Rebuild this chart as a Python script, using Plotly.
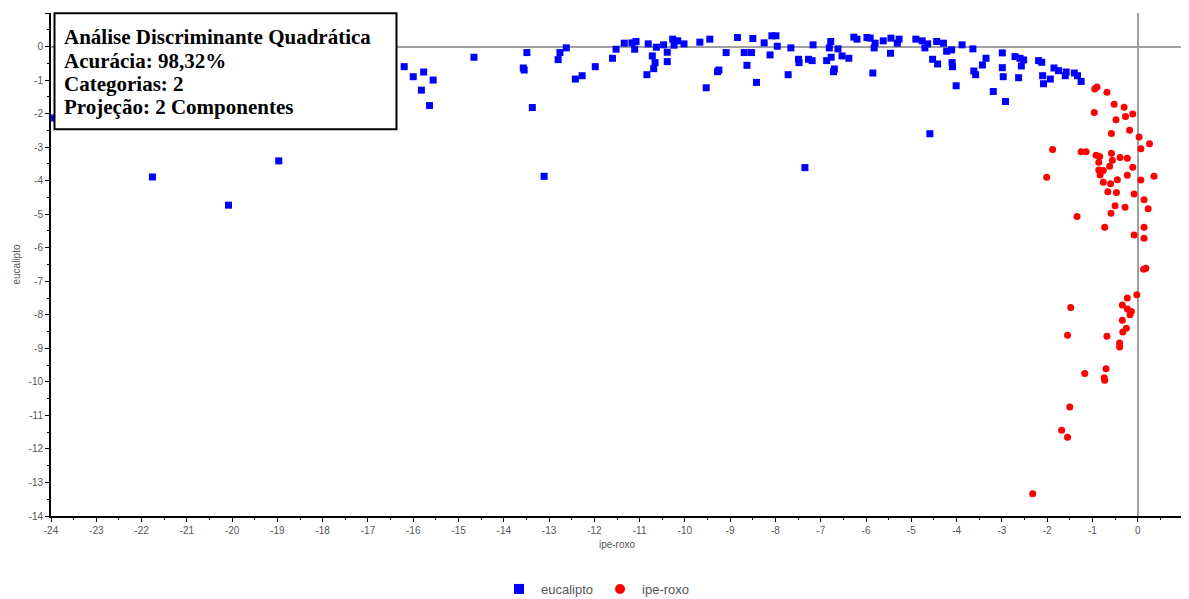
import plotly.graph_objects as go

# eucalipto (blue squares)
euc_x = [-24.0, -21.76, -20.08, -18.97, -16.20, -16.00, -15.77, -15.56, -15.82, -15.64,
         -14.66, -13.49, -13.57, -13.55, -13.37, -13.11, -12.76, -12.80, -12.62, -12.42,
         -12.27, -11.98, -11.60, -11.52, -11.34, -11.17, -11.08, -11.11, -10.81, -10.72,
         -10.66, -10.69, -10.84, -10.63, -10.47, -10.39, -10.39, -10.27, -10.16, -10.24,
         -10.02, -9.67, -9.45, -9.53, -9.25, -9.28, -9.09, -8.84, -8.69, -8.53,
         -8.63, -8.50, -8.42, -8.25, -8.12, -8.08, -7.99, -7.96, -7.72, -7.66,
         -7.49, -7.48, -7.27, -7.19, -7.17, -6.87, -6.77, -6.78, -6.81, -6.70,
         -6.72, -6.62, -6.53, -6.38, -6.27, -6.20, -5.98, -5.91, -5.85, -5.82,
         -5.80, -5.62, -5.46, -5.45, -5.31, -5.27, -4.90, -4.76, -4.70, -4.64,
         -4.53, -4.42, -4.44, -4.29, -4.22, -4.11, -4.10, -4.09, -4.01, -3.88,
         -3.64, -3.62, -3.58, -3.43, -3.35, -3.19, -2.99, -2.99, -2.97, -2.92,
         -4.59, -7.35, -2.71, -2.60, -2.52, -2.57, -2.63, -2.19, -2.12, -2.10,
         -2.08, -1.93, -1.85, -1.75, -1.58, -1.60, -1.40, -1.33, -1.25]
euc_y = [-2.13, -3.89, -4.73, -3.41, -0.60, -0.90, -0.76, -1.00, -1.30, -1.76,
         -0.32, -0.18, -0.64, -0.70, -1.82, -3.87, -0.18, -0.39, -0.04, -0.97,
         -0.87, -0.60, -0.35, -0.08, 0.10, 0.11, 0.15, -0.08, 0.08, -0.28,
         -0.48, -0.66, -0.84, -0.02, 0.05, -0.17, -0.45, 0.22, 0.17, 0.04,
         0.08, 0.13, 0.22, -1.23, -0.70, -0.75, -0.18, 0.27, -0.18, -0.18,
         -0.56, 0.24, -1.07, 0.11, -0.25, 0.32, 0.32, 0.01, -0.84, -0.04,
         -0.38, -0.48, -0.38, -0.42, 0.05, -0.42, -0.32, 0.15, -0.04, -0.67,
         -0.75, -0.07, -0.28, -0.35, 0.28, 0.22, 0.27, 0.25, -0.79, -0.04,
         0.10, 0.17, -0.20, 0.25, 0.10, 0.22, 0.22, 0.17, -0.04, 0.08,
         -0.38, -0.52, 0.15, 0.10, -0.14, -0.10, -0.48, -0.60, -1.17, 0.05,
         -0.07, -0.73, -0.84, -0.55, -0.35, -1.34, -0.19, -0.63, -0.90, -1.64,
         -2.60, -3.61, -0.30, -0.35, -0.40, -0.58, -0.93, -0.42, -0.47, -0.87,
         -1.11, -0.97, -0.64, -0.72, -0.76, -0.87, -0.79, -0.87, -1.04]

# ipe-roxo (red circles)
ipe_x = [-0.95, -0.90, -0.68, -0.96, -0.52, -0.30, -0.48, -0.27, -0.11, -0.18,
         -0.58, 0.03, 0.26, 0.07, -1.88, -1.25, -1.14, -0.92, -0.84, -0.58,
         -0.56, -0.39, -0.23, -0.86, -0.62, -0.11, -0.86, -0.76, -0.83, -0.45,
         -0.23, 0.07, 0.36, -2.01, -0.76, -0.60, -0.66, -0.47, -0.08, 0.14,
         -0.50, -0.28, 0.23, -0.59, -1.34, -0.73, 0.14, -0.08, 0.14, 0.13,
         0.18, -0.02, -0.23, -0.34, -0.23, -0.14, -0.17, -0.34, -0.25, -0.33,
         -0.40, -0.40, -1.48, -1.55, -0.68, -0.70, -1.17, -0.73, -0.74, -1.50,
         -1.68, -1.55, -2.32]
ipe_y = [-1.27, -1.21, -1.36, -1.97, -1.72, -1.81, -2.18, -2.09, -2.01, -2.50,
         -2.59, -2.70, -2.90, -3.05, -3.07, -3.14, -3.14, -3.24, -3.28, -3.18,
         -3.39, -3.31, -3.33, -3.45, -3.57, -3.60, -3.68, -3.70, -3.83, -3.97,
         -3.84, -3.98, -3.87, -3.90, -4.05, -4.09, -4.33, -4.35, -4.40, -4.57,
         -4.75, -4.79, -4.84, -4.97, -5.07, -5.39, -5.39, -5.62, -5.72, -6.64,
         -6.61, -7.40, -7.50, -7.71, -7.83, -7.90, -8.00, -8.16, -8.40, -8.51,
         -8.84, -8.96, -7.78, -8.61, -8.64, -9.61, -9.75, -9.95, -9.88, -10.75,
         -11.44, -11.65, -13.34]

x_ticks = list(range(-24, 2))
y_ticks = list(range(-14, 2))

info_lines = ["Análise Discriminante Quadrática", "Acurácia: 98,32%",
              "Categorias: 2", "Projeção: 2 Componentes"]

# the page body has an 8px margin; size the figure so the plot lands where the reference has it
OFF = 8
W, H = 1189 - OFF, 599 - OFF
ML, MR, MT, MB = 51 - OFF, 6, 13 - OFF, 83
PW, PH = W - ML - MR, H - MT - MB


def px_to_paper(px, py):
    # px, py are window pixel positions
    return (px - OFF - ML) / PW, (H - MB - (py - OFF)) / PH


fig = go.Figure()
fig.add_trace(go.Scatter(x=euc_x, y=euc_y, mode="markers", name="eucalipto", showlegend=False,
                         legendgroup="euc", marker=dict(symbol="square", size=7, color="#0000FF")))
fig.add_trace(go.Scatter(x=ipe_x, y=ipe_y, mode="markers", name="ipe-roxo", showlegend=False,
                         legendgroup="ipe", marker=dict(symbol="circle", size=7, color="#FF0000")))
# legend entries (larger symbols, as in the reference legend)
fig.add_trace(go.Scatter(x=[None], y=[None], mode="markers", name="eucalipto", legendgroup="euc",
                         marker=dict(symbol="square", size=10, color="#0000FF")))
fig.add_trace(go.Scatter(x=[None], y=[None], mode="markers", name="ipe-roxo", legendgroup="ipe",
                         marker=dict(symbol="circle", size=10, color="#FF0000")))

tickfont = dict(family="Liberation Sans, Arial", size=10, color="#555555")
titlefont = dict(family="Liberation Sans, Arial", size=10, color="#555555")
common = dict(showgrid=False, zeroline=True, zerolinecolor="#a0a0a0", zerolinewidth=2,
              showline=True, linecolor="black", linewidth=2, automargin=False,
              ticks="outside", ticklen=4, tickcolor="black", tickfont=tickfont,
              minor=dict(dtick=0.5, ticks="outside", ticklen=2, tickcolor="black", showgrid=False))
fig.update_xaxes(range=[-24, 1], tickvals=x_ticks, ticktext=[str(v) for v in x_ticks],
                 title=dict(text="ipe-roxo", font=titlefont, standoff=6), **common)
fig.update_yaxes(range=[-14, 1], tickvals=y_ticks, ticktext=[str(v) for v in y_ticks],
                 title=dict(text="eucalipto", font=titlefont, standoff=6), **common)

bx0, by1 = px_to_paper(54.5, 13.3)
bx1, by0 = px_to_paper(396.5, 129.3)
fig.add_shape(type="rect", xref="paper", yref="paper", x0=bx0, x1=bx1, y0=by0, y1=by1,
              line=dict(color="black", width=2), fillcolor="white", layer="above")
line_centers = [37.0, 60.5, 84.0, 107.0]
for txt, cy in zip(info_lines, line_centers):
    ax, ay = px_to_paper(62, cy)
    fig.add_annotation(xref="paper", yref="paper", x=ax, y=ay, xanchor="left", yanchor="middle",
                       text="<b>%s</b>" % txt, showarrow=False, align="left",
                       font=dict(family="Liberation Serif, Times New Roman", size=21, color="black"))

lx, ly = px_to_paper(596, 589)
fig.update_layout(width=W, height=H, plot_bgcolor="white", paper_bgcolor="white",
                  margin=dict(l=ML, r=MR, t=MT, b=MB, autoexpand=False),
                  legend=dict(orientation="h", x=lx, xanchor="center", y=ly, yanchor="middle",
                              itemwidth=34,
                              font=dict(family="Liberation Sans, Arial", size=13, color="#555555")),
                  showlegend=True)

fig.write_html("out.html")
